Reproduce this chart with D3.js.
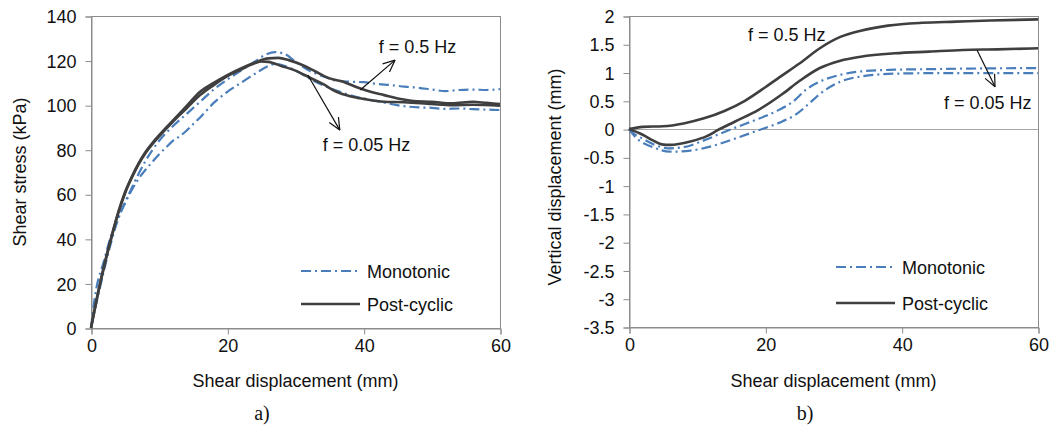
<!DOCTYPE html>
<html>
<head>
<meta charset="utf-8">
<script src="https://cdn.jsdelivr.net/npm/d3@7/dist/d3.min.js"></script>
<style>
  body { margin: 0; background: #fff; }
  svg { display: block; font-family: "Liberation Sans", Arial, sans-serif; }
</style>
</head>
<body>
<svg id="chart" width="1057" height="429"></svg>
<script>
// ---- data ----
const xTicks = [0, 20, 40, 60]
const stressTicks = [0, 20, 40, 60, 80, 100, 120, 140]
const vertTicks = [2, 1.5, 1, 0.5, 0, -0.5, -1, -1.5, -2, -2.5, -3, -3.5]

// a) shear stress (kPa) vs shear displacement (mm)
const stressMonoA = [[0,0],[0.3,8],[0.8,18],[1.8,29],[3,42],[4.5,53],[6,63],[8,75],[10,84],[12,90.5],[14,96],[16,101.5],[18,107],[20,111.5],[22,115.5],[24,119.5],[25.5,122.5],[27,123.8],[28.5,122.8],[30,119.5],[32,115.5],[34,113],[36,111],[38,110.5],[40,110.3],[42,109.5],[44,109],[46,108.3],[48,107.8],[50,107],[52,106.3],[54,106.8],[56,107],[58,106.8],[60,107.2]]
const stressMonoB = [[0,0],[1,14],[2,27],[3,39],[4,49],[5,56],[6,62],[7,67],[8,71],[9,74.5],[10,78],[11,81],[12,84],[13,86],[14,88.5],[15,91.5],[16,94.5],[18,101],[20,106],[22,110],[24,114],[26,117.5],[27,118.5],[28,118],[30,115.5],[32,112],[34,109],[36,106.5],[38,104.5],[40,103],[42,101.8],[44,100.5],[46,99.5],[48,99],[50,98.8],[52,98.3],[54,98.5],[56,98.2],[58,98],[60,97.8]]
const stressPost05 = [[0,0],[1,15.5],[2,29],[3,41],[4,52],[5,61],[6,68],[7,74],[8,79],[9,83],[10,86.5],[12,93],[14,99.5],[16,106],[18,110],[20,113.5],[22,116.5],[24,119],[26,121],[27.5,121.2],[29,120.2],[31,118],[33,115],[35,112],[37,110.5],[39,108],[41,106],[43,104.5],[45,103],[47,102],[50,101.5],[53,100.8],[56,101.5],[58,101],[60,100.5]]
const stressPost005 = [[0,0],[1,15],[2,28.5],[3,40.5],[4,51.5],[5,60.5],[6,67.5],[7,73.5],[8,78.5],[9,82.5],[10,86],[12,92.5],[14,98.5],[16,104.5],[18,109],[20,113],[22,116],[24,118.8],[25,119.6],[26,119.4],[28,117.5],[30,115.5],[32,112.5],[34,109.5],[36,106],[38,104],[40,102.8],[43,101.5],[46,101.3],[50,100.5],[53,100],[56,100.2],[60,99.8]]

// b) vertical displacement (mm) vs shear displacement (mm)
const vertMonoA = [[0,0],[0.5,-0.06],[2,-0.17],[3.8,-0.28],[5.7,-0.34],[8,-0.32],[11,-0.2],[14,-0.05],[17,0.09],[20,0.23],[22,0.34],[24,0.48],[26,0.7],[28,0.84],[31,0.96],[34,1.02],[39,1.05],[44,1.06],[50,1.07],[60,1.08]]
const vertMonoB = [[0,0],[0.5,-0.08],[1.5,-0.2],[3.3,-0.31],[6,-0.4],[9,-0.38],[12.5,-0.29],[15.5,-0.17],[19,-0.02],[22,0.11],[24.5,0.26],[26.5,0.46],[28,0.62],[31,0.84],[34,0.93],[39,0.98],[45,0.99],[60,0.99]]
const vertPost05 = [[0,0],[2,0.04],[5,0.05],[8,0.1],[11,0.19],[14,0.32],[17,0.5],[20,0.74],[22,0.91],[25,1.16],[28,1.43],[31,1.63],[34,1.74],[38,1.83],[43,1.88],[48,1.9],[53,1.92],[60,1.94]]
const vertPost005 = [[0,0],[2,-0.1],[3.5,-0.2],[4.8,-0.27],[6,-0.28],[9,-0.22],[11.5,-0.12],[13,-0.02],[15.5,0.13],[19,0.34],[22.5,0.62],[25,0.85],[28,1.08],[31,1.21],[34,1.28],[39,1.34],[44,1.37],[49,1.4],[54,1.41],[60,1.43]]

const blue = '#4a7ebb'
const dark = '#3f3f3f'
const axisGray = '#8c8c8c'
const monoDash = '10,4,2,4'

const svg = d3.select('#chart')

function drawPanel(opts) {
  const x = d3.scaleLinear().domain([0, 60]).range([opts.left, opts.right])
  const y = d3.scaleLinear().domain(opts.yDomain).range([opts.bottom, opts.top])
  const g = svg.append('g')

  // plot frame (top + right border)
  g.append('rect')
    .attr('x', opts.left + 0.5).attr('y', opts.top + 0.5)
    .attr('width', opts.right - opts.left).attr('height', opts.bottom - opts.top)
    .attr('fill', 'none').attr('stroke', axisGray)

  if (opts.zeroLine) {
    g.append('line')
      .attr('x1', x(0)).attr('x2', x(60))
      .attr('y1', Math.round(y(0)) + 0.5).attr('y2', Math.round(y(0)) + 0.5)
      .attr('stroke', '#a6a6a6')
  }

  const fmt = d => String(d)

  const xAxis = g.append('g')
    .attr('transform', `translate(0.5,${opts.bottom + 0.5})`)
    .call(d3.axisBottom(x).tickValues(xTicks).tickSize(6).tickPadding(5).tickFormat(fmt))
  const yAxis = g.append('g')
    .attr('transform', `translate(${opts.left + 0.5},0.5)`)
    .call(d3.axisLeft(y).tickValues(opts.yTicks).tickSize(6).tickPadding(9).tickFormat(fmt))

  ;[xAxis, yAxis].forEach(a => {
    a.select('.domain').attr('stroke', axisGray)
    a.selectAll('.tick line').attr('stroke', axisGray)
    a.selectAll('.tick text').attr('fill', '#111').attr('font-size', '18px')
      .attr('font-family', '"Liberation Sans", Arial, sans-serif')
  })
  yAxis.selectAll('.tick text').attr('dy', '0.34em')

  const line = d3.line().x(d => x(d[0])).y(d => y(d[1])).curve(d3.curveMonotoneX)

  opts.mono.forEach(s => {
    g.append('path').datum(s).attr('d', line)
      .attr('fill', 'none').attr('stroke', blue).attr('stroke-width', 2.2)
      .attr('stroke-dasharray', monoDash)
  })
  opts.post.forEach(s => {
    g.append('path').datum(s).attr('d', line)
      .attr('fill', 'none').attr('stroke', dark).attr('stroke-width', 2.6)
  })

  // annotations
  opts.labels.forEach(l => {
    g.append('text').attr('x', x(l.x)).attr('y', y(l.y))
      .attr('font-size', '18px').attr('fill', '#111').text(l.text)
  })
  opts.arrows.forEach(a => {
    const x1 = x(a.from[0]), y1 = y(a.from[1])
    const x2 = x(a.to[0]), y2 = y(a.to[1])
    g.append('line').attr('x1', x1).attr('y1', y1).attr('x2', x2).attr('y2', y2)
      .attr('stroke', '#111').attr('stroke-width', 1.2)
    const ang = Math.atan2(y2 - y1, x2 - x1)
    const len = 13, spread = 0.42
    ;[-spread, spread].forEach(s => {
      g.append('line').attr('x1', x2).attr('y1', y2)
        .attr('x2', x2 - len * Math.cos(ang + s))
        .attr('y2', y2 - len * Math.sin(ang + s))
        .attr('stroke', '#111').attr('stroke-width', 1.2)
    })
  })

  // legend
  const lg = [
    { label: 'Monotonic', color: blue, dash: monoDash, w: 2.2 },
    { label: 'Post-cyclic', color: dark, dash: null, w: 2.6 }
  ]
  lg.forEach((l, i) => {
    const ly = opts.legendY[i]
    g.append('line').attr('x1', opts.legendX).attr('x2', opts.legendX + 59)
      .attr('y1', ly).attr('y2', ly)
      .attr('stroke', l.color).attr('stroke-width', l.w)
      .attr('stroke-dasharray', l.dash)
    g.append('text').attr('x', opts.legendX + 66).attr('y', ly + 6.5)
      .attr('font-size', '18px').attr('fill', '#111').text(l.label)
  })

  // axis titles
  g.append('text')
    .attr('x', (opts.left + opts.right) / 2).attr('y', 387)
    .attr('text-anchor', 'middle').attr('font-size', '18px').attr('fill', '#111')
    .text('Shear displacement (mm)')
  g.append('text')
    .attr('transform', `translate(${opts.yTitleX},${opts.yTitleY}) rotate(-90)`)
    .attr('text-anchor', 'middle').attr('font-size', '18px').attr('fill', '#111')
    .text(opts.yTitle)
  g.append('text')
    .attr('x', opts.tagX).attr('y', 420)
    .attr('text-anchor', 'middle').attr('font-size', '20px').attr('fill', '#111')
    .attr('font-family', '"Liberation Serif", "Times New Roman", serif')
    .text(opts.tag)
}

drawPanel({
  left: 91, right: 500, top: 16, bottom: 328,
  yDomain: [0, 140], yTicks: stressTicks,
  mono: [stressMonoA, stressMonoB],
  post: [stressPost05, stressPost005],
  labels: [
    { text: 'f = 0.5 Hz', x: 42.2, y: 123.2 },
    { text: 'f = 0.05 Hz', x: 34.0, y: 79.4 }
  ],
  arrows: [
    { from: [39.5, 106.8], to: [44.6, 120.2] },
    { from: [31.8, 113.5], to: [36.5, 88.8] }
  ],
  legendX: 301, legendY: [271, 304],
  yTitle: 'Shear stress (kPa)', yTitleX: 26, yTitleY: 172,
  tag: 'a)', tagX: 262
})

drawPanel({
  left: 629, right: 1038, top: 16, bottom: 327,
  yDomain: [-3.5, 2], yTicks: vertTicks, zeroLine: true,
  mono: [vertMonoA, vertMonoB],
  post: [vertPost05, vertPost005],
  labels: [
    { text: 'f = 0.5 Hz', x: 17.46, y: 1.55 },
    { text: 'f = 0.05 Hz', x: 46.2, y: 0.35 }
  ],
  arrows: [
    { from: [51.05, 1.40], to: [53.7, 0.75] }
  ],
  legendX: 836, legendY: [267, 303],
  yTitle: 'Vertical displacement (mm)', yTitleX: 561, yTitleY: 177,
  tag: 'b)', tagX: 805
})
</script>
</body>
</html>
